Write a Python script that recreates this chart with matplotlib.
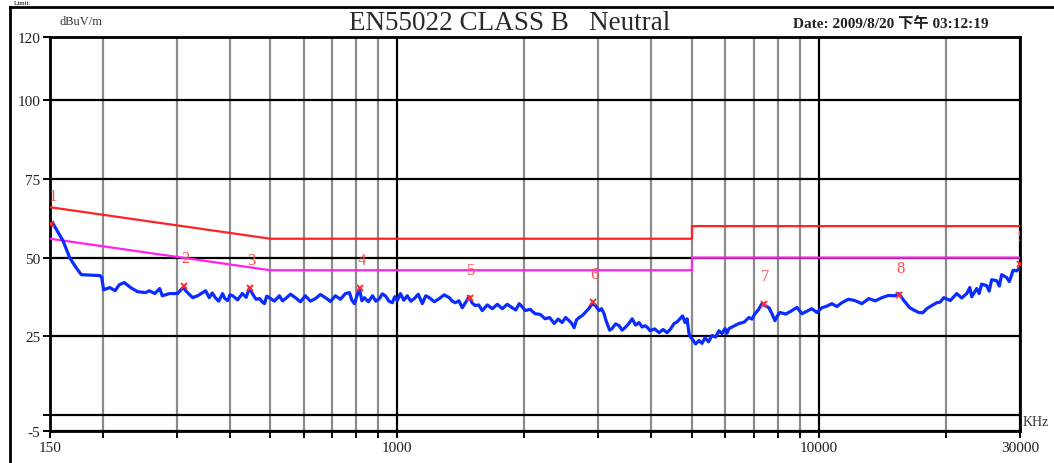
import numpy as np
import matplotlib
matplotlib.use("Agg")
import matplotlib.pyplot as plt
from matplotlib.ticker import FixedLocator, NullFormatter
from matplotlib.lines import Line2D

# Frequency axis (kHz) and level (dBuV/m)
trace_f = [150, 152, 161, 167, 173, 178, 197, 199, 201, 208, 214, 219, 225, 233,
           242, 253, 258, 266, 273, 277, 288, 301, 310, 318, 327, 336, 351,
           358, 364, 370, 377, 385, 390, 396, 401, 407, 418, 429, 438, 446, 453,
           462, 471, 478, 484, 490, 497, 511, 525, 534, 543, 558, 573, 589, 605,
           622, 639, 657, 675, 694, 713, 733, 753, 770, 780, 791, 813, 824, 835,
           854, 873, 889, 907, 921, 937, 955, 973, 986, 1000, 1017, 1036, 1056,
           1076, 1097, 1121, 1146, 1168, 1191, 1224, 1257, 1292, 1328, 1350, 1372,
           1400, 1426, 1481, 1505, 1531, 1560, 1590, 1635, 1680, 1727, 1774, 1823,
           1873, 1910, 1946, 1978, 2011, 2066, 2123, 2182, 2242, 2298, 2355, 2407,
           2460, 2508, 2556, 2590, 2627, 2660, 2700, 2745, 2790, 2845, 2898, 2950,
           3011, 3050, 3094, 3120, 3145, 3190, 3232, 3295, 3358, 3414, 3470, 3538,
           3606, 3675, 3745, 3807, 3870, 3923, 3977, 4076, 4178, 4270, 4364, 4450,
           4534, 4610, 4685, 4750, 4815, 4868, 4920, 4960, 5000, 5100, 5196, 5283,
           5370, 5474, 5578, 5686, 5794, 5890, 5987, 6053, 6119, 6290, 6462, 6643,
           6825, 6938, 7052, 7190, 7328, 7408, 7612, 7740, 7865, 7970, 8082, 8350,
           8630, 8870, 9114, 9366, 9625, 9890, 10165, 10446, 10735, 11032, 11337,
           11745, 12170, 12645, 13137, 13613, 14107, 14620, 15142, 15477, 15905,
           16433, 16840, 17258, 17640, 18030, 18530, 19040, 19400, 19782, 20500,
           21236, 21820, 22425, 22800, 23050, 23680, 24000, 24330, 25006, 25350,
           25700, 26406, 26800, 27140, 27884, 28300, 28900, 29445, 30000]
trace_v = [60.8, 61.1, 55.4, 50.0, 46.8, 44.6, 44.3, 43.7, 39.8, 40.5, 39.5,
           41.4, 42.1, 40.5, 39.2, 38.9, 39.5, 38.6, 40.2, 37.9, 38.6, 38.6, 40.5,
           38.9, 37.3, 37.9, 39.5,
           37.3, 38.8, 37.3, 36.2, 38.6, 37.0, 36.4, 38.2, 37.9, 36.6, 38.6, 37.4,
           40.5, 38.6, 36.8, 37.0, 36.0, 35.4, 37.8, 37.3, 36.2, 37.9, 36.3, 37.0,
           38.4, 37.3, 36.0, 37.9, 36.2, 37.0, 38.3, 37.3, 36.1, 37.9, 36.8, 38.6,
           38.9, 36.5, 35.4, 40.2, 36.3, 37.3, 36.0, 37.9, 36.2, 37.0, 38.5, 37.9,
           36.2, 35.7, 37.6, 36.4, 38.6, 36.5, 37.9, 36.2, 37.0, 38.4, 35.4, 37.9,
           37.3, 36.0, 37.0, 38.2, 37.3, 36.2, 35.7, 36.3, 34.1, 37.6, 35.6, 34.8,
           35.0, 33.2, 35.0, 33.8, 35.2, 33.8, 35.2, 34.1, 33.4, 35.4, 34.4, 33.2,
           33.6, 32.2, 32.0, 30.6, 31.0, 29.1, 30.5, 29.4, 31.0, 30.0, 29.2, 27.8,
           30.2, 31.0, 31.6, 32.6, 33.8, 35.4, 34.8, 33.2, 33.8, 32.2, 30.4, 29.1,
           27.0, 27.5, 29.0, 28.4, 27.0, 27.8, 29.0, 30.6, 28.6, 29.4, 28.0, 28.4,
           27.8, 26.8, 27.4, 26.2, 27.2, 26.2, 27.4, 29.1, 29.6, 30.6, 31.5, 29.4,
           30.6, 25.9, 24.8, 24.3, 22.6, 23.7, 22.8, 24.6, 23.3, 25.3, 24.8, 26.8,
           25.9, 27.5, 26.0, 27.5, 28.3, 29.1, 29.5, 31.0, 30.5, 32.2, 33.5, 35.4,
           35.0, 34.1, 32.2, 30.0, 31.5, 32.6, 32.1, 33.2, 34.2, 32.2, 33.0, 33.8,
           32.6, 34.1, 34.6, 35.4, 34.5, 35.7, 36.8, 36.4, 35.4, 37.0, 36.3, 37.3,
           38.0, 37.9, 38.6, 36.4, 34.1, 33.3, 32.6, 32.5, 33.8, 34.8, 35.7, 35.9,
           37.3, 36.4, 38.6, 37.2, 38.6, 40.5, 37.6, 40.2, 38.6, 41.6, 41.1, 39.4,
           43.0, 42.7, 41.0, 44.6, 43.7, 42.4, 46.0, 45.8, 46.8]

# EN55022 class B limit lines
qp_f = [150, 500, 5000, 5000, 30000]
qp_v = [66, 56, 56, 60, 60]
av_f = [150, 500, 5000, 5000, 30000]
av_v = [56, 46, 46, 50, 50]

# marked peaks
mark_f = [151, 312, 448, 817, 1489, 2914, 7410, 15470, 30000]
mark_v = [60.8, 41.1, 40.5, 40.5, 37.3, 36.0, 35.4, 38.0, 48.1]
mark_lbl = ["1", "2", "3", "4", "5", "6", "7", "8", "9"]

x_major = [150, 1000, 10000, 30000]
x_major_lbl = ["150", "1000", "10000", "30000"]
x_minor = [200, 300, 400, 500, 600, 700, 800, 900,
           2000, 3000, 4000, 5000, 6000, 7000, 8000, 9000, 20000]
y_ticks = [-5, 0, 25, 50, 75, 100, 120]
y_lbl = ["-5", "", "25", "50", "75", "100", "120"]

serif = ["Liberation Serif", "DejaVu Serif"]

W, H = 1054, 464
fig = plt.figure(figsize=(W / 100, H / 100), dpi=100)
ax = fig.add_axes([50 / W, 1 - 432 / H, 970 / W, 394 / H])

ax.set_xscale("log")
ax.set_xlim(150, 30000)
ax.set_ylim(-5, 120)

ax.xaxis.set_major_locator(FixedLocator(x_major))
ax.set_xticklabels(x_major_lbl)
ax.xaxis.set_minor_locator(FixedLocator(x_minor))
ax.xaxis.set_minor_formatter(NullFormatter())
ax.set_yticks(y_ticks)
ax.set_yticklabels(y_lbl)

ax.grid(True, axis="x", which="minor", color="#8c8c8c", lw=1.6)
ax.grid(True, axis="x", which="major", color="black", lw=1.6)
ax.grid(True, axis="y", which="major", color="black", lw=1.6)
ax.set_axisbelow(True)

ax.tick_params(axis="both", which="both", direction="out", length=5, width=1.4,
               color="black", labelcolor="#202020", labelsize=11, pad=2)
for lab in ax.get_xticklabels() + ax.get_yticklabels():
    lab.set_family(serif)
for s in ax.spines.values():
    s.set_linewidth(2)
    s.set_color("black")

ax.plot(qp_f, qp_v, color="#ff2222", lw=1.6, zorder=3)
ax.plot(av_f, av_v, color="#ff22ee", lw=1.6, zorder=3)
ax.plot(trace_f, trace_v, color="#0a2cff", lw=2.3, zorder=4)
ax.plot(mark_f, mark_v, ls="none", marker="x", ms=5, mew=1.4, color="#ff2a2a", zorder=5)
for f, v, t in zip(mark_f, mark_v, mark_lbl):
    ax.annotate(t, (f, v), xytext=(1, 20), textcoords="offset points",
                ha="center", va="center", color="#ff5050", fontsize=12,
                family=serif, annotation_clip=False, clip_on=True, zorder=6)

# header texts
fig.text(510 / W, 1 - 24 / H, "EN55022 CLASS B   Neutral", ha="center", va="center",
         fontsize=19.5, family=serif, color="#2a2a2a")
fig.text(60 / W, 1 - 22 / H, "dBuV/m", ha="left", va="center", fontsize=9,
         family=serif, color="#333333")
fig.text(793 / W, 1 - 24 / H, "Date: 2009/8/20 下午 03:12:19", ha="left", va="center",
         fontsize=11, fontweight="bold", family=["Liberation Serif", "Noto Sans CJK SC"],
         color="#222222")
fig.text(1023 / W, 1 - 423 / H, "KHz", ha="left", va="center", fontsize=10,
         family=serif, color="#333333")
fig.text(14 / W, 1 - 1 / H, "Limit:", ha="left", va="top", fontsize=5,
         family=serif, color="black")

# outer frame of the report
fig.add_artist(Line2D([10 / W, 10 / W], [0, 1 - 8 / H], color="black", lw=2))
fig.add_artist(Line2D([10 / W, 1], [1 - 8 / H, 1 - 8 / H], color="black", lw=2))

fig.savefig("out.png", dpi=100)
